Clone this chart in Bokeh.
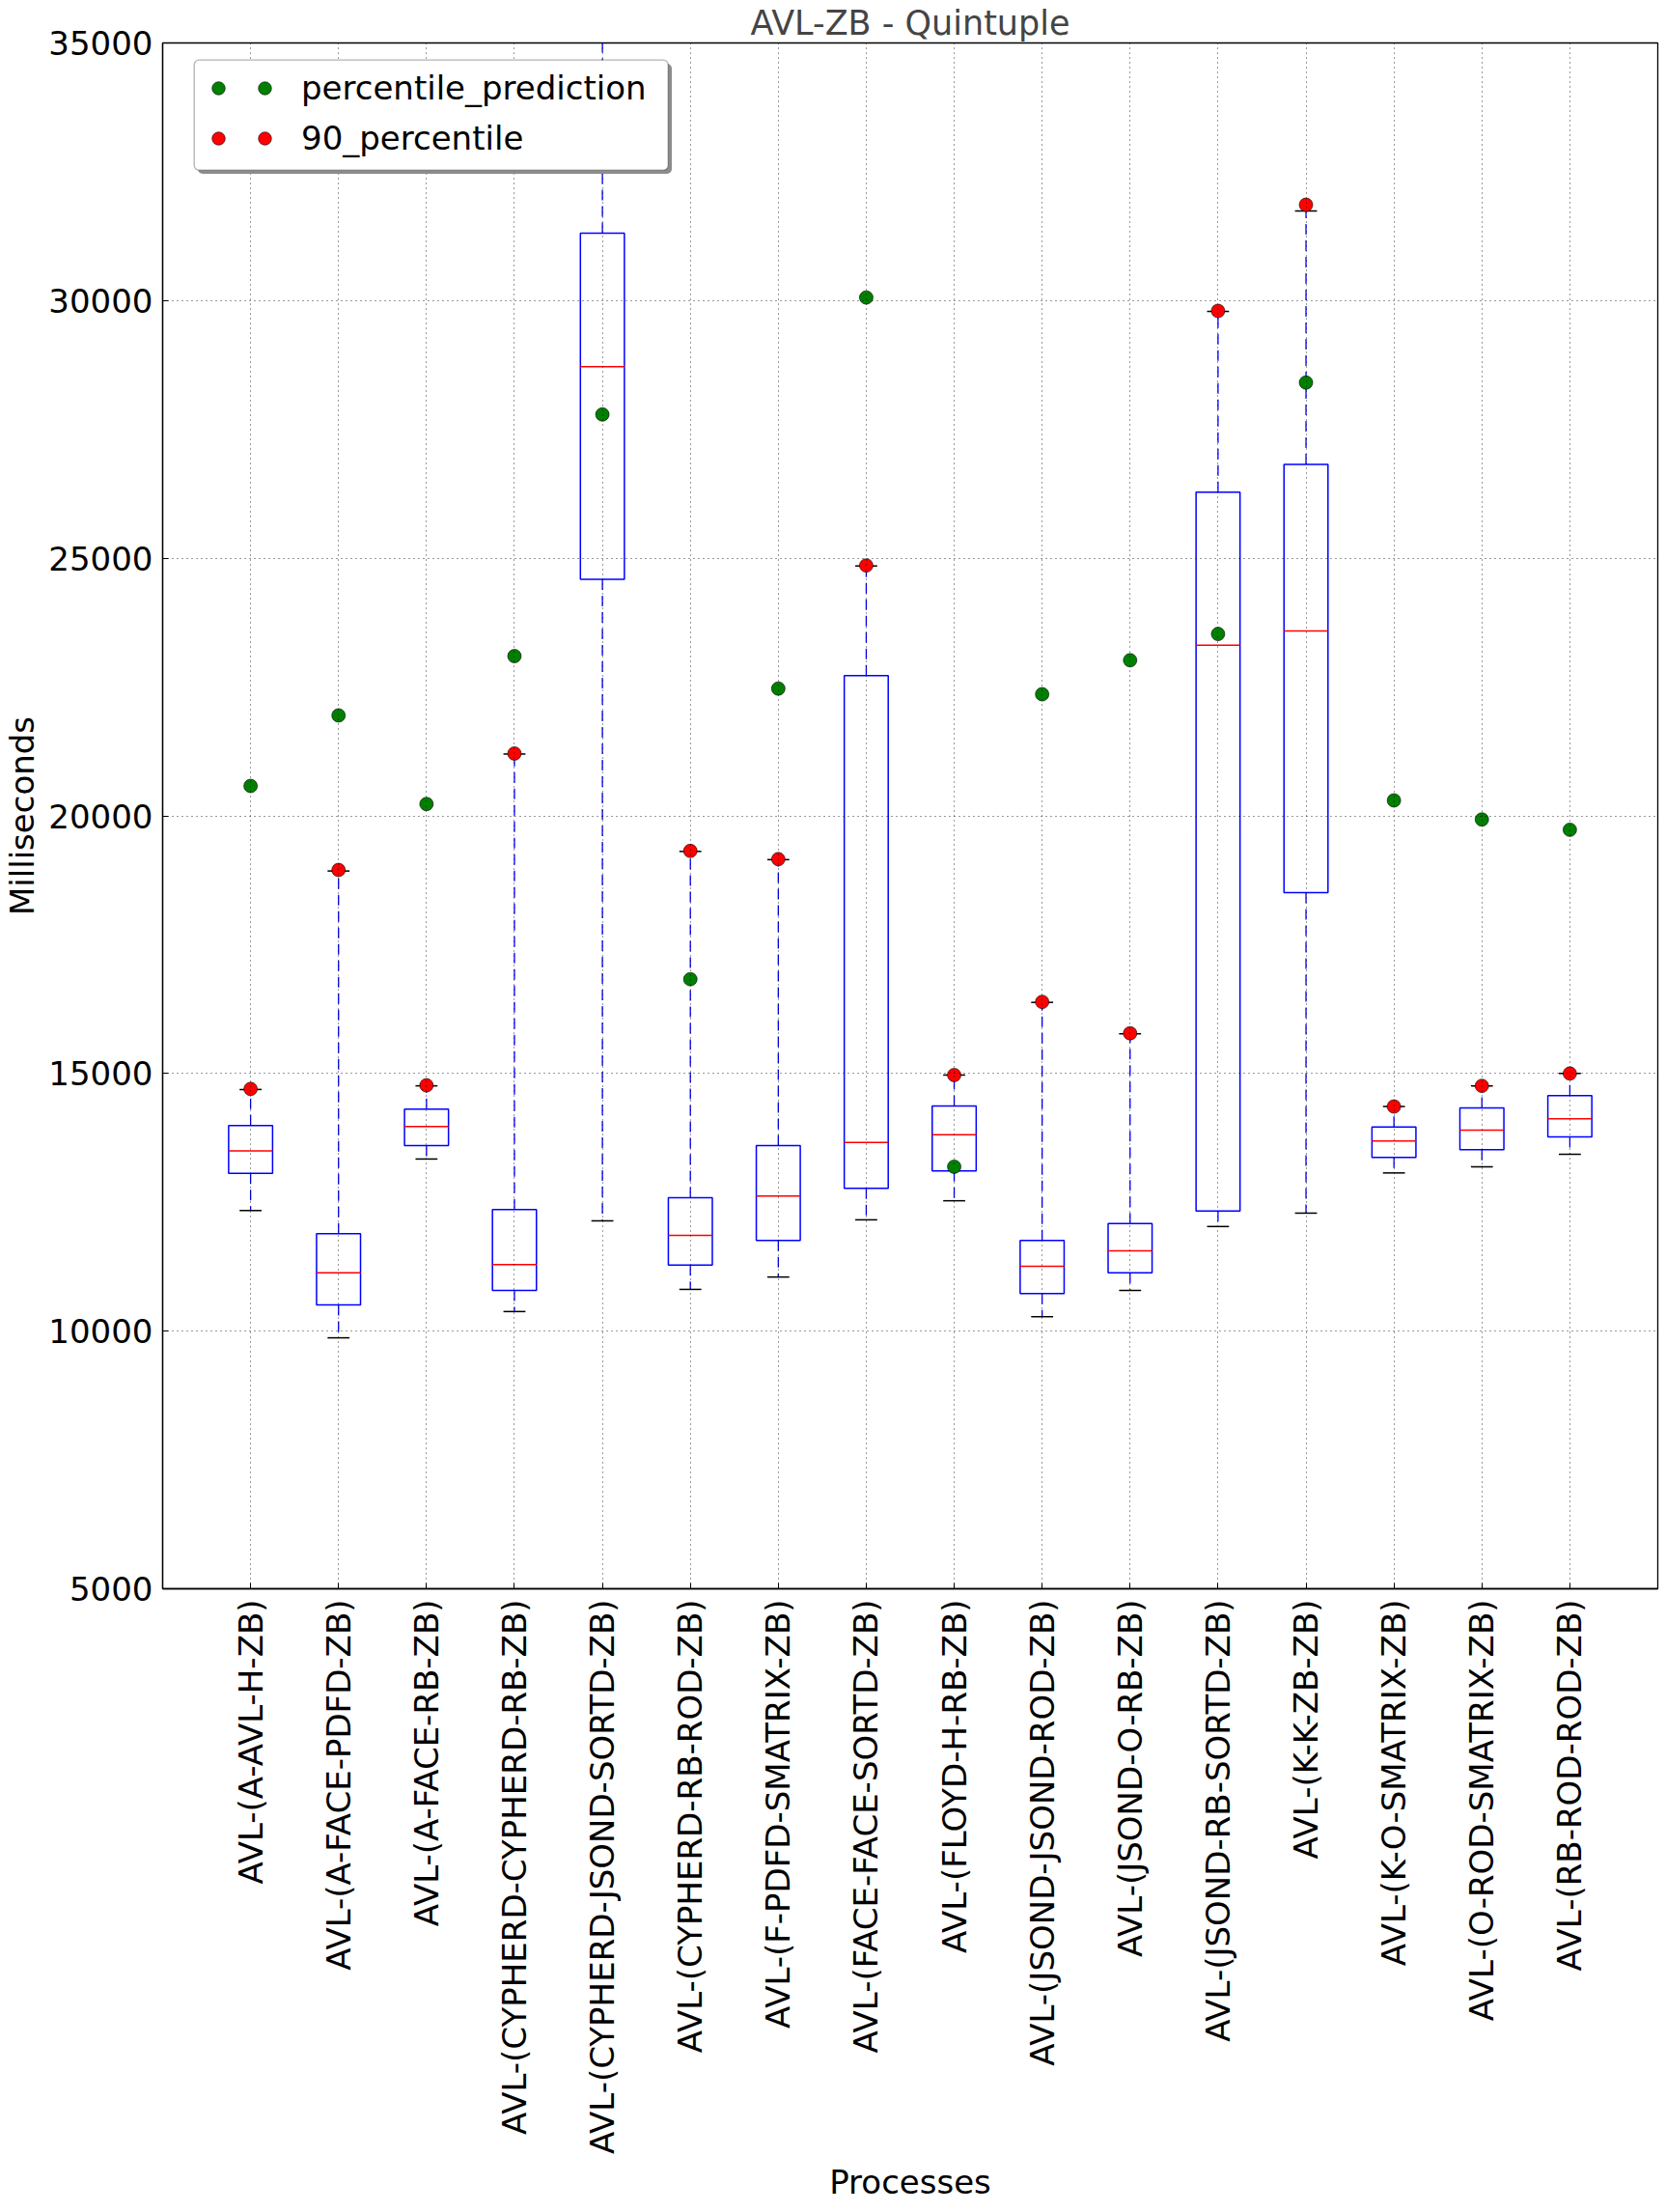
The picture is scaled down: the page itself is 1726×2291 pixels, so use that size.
import math
import numpy as np
from bokeh.plotting import figure
from bokeh.models import (Range1d, FixedTicker, Legend, LegendItem, BoxAnnotation,
                          ColumnDataSource)
from bokeh.embed import file_html
from bokeh.resources import INLINE

# ---------------- data ----------------
categories = [
    "AVL-(A-AVL-H-ZB)",
    "AVL-(A-FACE-PDFD-ZB)",
    "AVL-(A-FACE-RB-ZB)",
    "AVL-(CYPHERD-CYPHERD-RB-ZB)",
    "AVL-(CYPHERD-JSOND-SORTD-ZB)",
    "AVL-(CYPHERD-RB-ROD-ZB)",
    "AVL-(F-PDFD-SMATRIX-ZB)",
    "AVL-(FACE-FACE-SORTD-ZB)",
    "AVL-(FLOYD-H-RB-ZB)",
    "AVL-(JSOND-JSOND-ROD-ZB)",
    "AVL-(JSOND-O-RB-ZB)",
    "AVL-(JSOND-RB-SORTD-ZB)",
    "AVL-(K-K-ZB-ZB)",
    "AVL-(K-O-SMATRIX-ZB)",
    "AVL-(O-ROD-SMATRIX-ZB)",
    "AVL-(RB-ROD-ROD-ZB)",
]
whisker_low = [12340, 9870, 13340, 10380, 12140, 10810, 11050, 12160,
               12530, 10280, 10790, 12030, 12290, 13070, 13190, 13430]
q1 = [13060, 10510, 13600, 10790, 24590, 11280, 11760, 12770,
      13110, 10730, 11130, 12330, 18510, 13370, 13520, 13770]
median = [13500, 11130, 13970, 11290, 28720, 11860, 12620, 13660,
          13810, 11260, 11560, 23310, 23590, 13690, 13900, 14120]
q3 = [13990, 11890, 14310, 12360, 31310, 12590, 13600, 22720,
      14370, 11760, 12090, 26280, 26820, 13960, 14330, 14570]
whisker_high = [14690, 18930, 14760, 21200, 36500, 19310, 19150, 24850,
                14970, 16380, 15770, 29790, 31740, 14360, 14760, 15000]
p90 = [14700, 18950, 14770, 21210, 36600, 19320, 19160, 24860,
       14970, 16390, 15780, 29800, 31860, 14360, 14760, 15000]
prediction = [20580, 21950, 20230, 23100, 27790, 16830, 22470, 30060,
              13190, 22360, 23020, 23530, 28410, 20300, 19930, 19730]
y_ticks = [5000, 10000, 15000, 20000, 25000, 30000, 35000]

pos = np.arange(1, len(categories) + 1)
BOX_W = 0.5
CAP_W = 0.25

FONT = "DejaVu Sans"
FS = "34px"

p = figure(frame_width=1549, frame_height=1601,
           x_range=Range1d(0, 17), y_range=Range1d(5000, 35000),
           output_backend="svg", toolbar_location=None,
           title="AVL-ZB - Quintuple",
           min_border_left=159, min_border_right=2, min_border_top=0,
           min_border_bottom=0)

p.background_fill_color = "white"
p.border_fill_color = "white"
p.outline_line_color = "black"
p.outline_line_width = 1.3

p.title.text_font = FONT
p.title.text_font_size = "35px"
p.title.text_font_style = "normal"
p.title.align = "center"
p.title.standoff = 2

# axes
p.xaxis.ticker = FixedTicker(ticks=list(pos))
p.xaxis.major_label_overrides = {int(i): c for i, c in zip(pos, categories)}
p.xaxis.major_label_orientation = math.pi / 2
p.yaxis.ticker = FixedTicker(ticks=y_ticks)
for ax in (p.xaxis[0], p.yaxis[0]):
    ax.major_label_text_font = FONT
    ax.major_label_text_font_size = FS
    ax.major_label_text_color = "black"
    ax.axis_label_text_font = FONT
    ax.axis_label_text_font_size = FS
    ax.axis_label_text_font_style = "normal"
    ax.axis_label_text_color = "black"
    ax.axis_line_color = "black"
    ax.axis_line_width = 1.3
    ax.major_tick_in = 6
    ax.major_tick_out = 0
    ax.major_tick_line_color = "black"
    ax.minor_tick_line_color = None
p.xaxis.axis_label = "Processes"
p.yaxis.axis_label = "Milliseconds"
p.xaxis.major_label_standoff = 11
p.yaxis.major_label_standoff = 10
p.xaxis.axis_label_standoff = 6
p.yaxis.axis_label_standoff = 4

# grid
for g in (p.xgrid[0], p.ygrid[0]):
    g.grid_line_color = "black"
    g.grid_line_width = 0.8
    g.grid_line_dash = "1 4"
    g.level = "guide"
p.ygrid.ticker = FixedTicker(ticks=y_ticks)
p.xgrid.ticker = FixedTicker(ticks=list(pos))

# ---------------- boxes ----------------
src = ColumnDataSource(dict(
    x=pos, q1=q1, q3=q3, med=median, lo=whisker_low, hi=whisker_high,
    x0=pos - BOX_W / 2, x1=pos + BOX_W / 2,
    c0=pos - CAP_W / 2, c1=pos + CAP_W / 2,
))

# whiskers (blue dashed)
p.segment(x0="x", y0="q3", x1="x", y1="hi", source=src,
          line_color="blue", line_width=1.3, line_dash="11 6")
p.segment(x0="x", y0="q1", x1="x", y1="lo", source=src,
          line_color="blue", line_width=1.3, line_dash="11 6")
# caps (black)
p.segment(x0="c0", y0="hi", x1="c1", y1="hi", source=src,
          line_color="black", line_width=1.5)
p.segment(x0="c0", y0="lo", x1="c1", y1="lo", source=src,
          line_color="black", line_width=1.5)
# box
p.quad(left="x0", right="x1", bottom="q1", top="q3", source=src,
       fill_alpha=0, line_color="blue", line_width=1.5)
# median
p.segment(x0="x0", y0="med", x1="x1", y1="med", source=src,
          line_color="red", line_width=1.5)

# ---------------- points ----------------
r_pred = p.scatter(x=pos, y=prediction, size=14, marker="circle",
                   fill_color="#008000", line_color="black", line_width=0.6)
r_p90 = p.scatter(x=pos, y=p90, size=14, marker="circle",
                  fill_color="#ff0000", line_color="black", line_width=0.6)

# ---------------- legend ----------------
shadow = BoxAnnotation(left=204.5, right=695.5, top=65.5, bottom=179.5,
                       left_units="canvas", right_units="canvas",
                       top_units="canvas", bottom_units="canvas",
                       fill_color="#8c8c8c", fill_alpha=1.0, line_color=None,
                       border_radius=5)
frame_box = BoxAnnotation(left=200.7, right=691.7, top=61.7, bottom=175.7,
                          left_units="canvas", right_units="canvas",
                          top_units="canvas", bottom_units="canvas",
                          fill_color="white", fill_alpha=1.0,
                          line_color="black", line_width=1.3,
                          border_radius=5)
p.add_layout(shadow)
p.add_layout(frame_box)

leg_common = dict(glyph_height=46, label_height=46, glyph_width=34,
                  spacing=6, padding=5, margin=0,
                  label_text_font=FONT, label_text_font_size=FS,
                  label_text_color="black",
                  background_fill_alpha=0, border_line_alpha=0)
legend_a = Legend(items=[LegendItem(label="percentile_prediction", renderers=[r_pred]),
                         LegendItem(label="90_percentile", renderers=[r_p90])],
                  location=(36, 1474), label_standoff=69, **leg_common)
legend_b = Legend(items=[LegendItem(label=" ", renderers=[r_pred]),
                         LegendItem(label=" ", renderers=[r_p90])],
                  location=(84, 1474), label_standoff=2, **leg_common)
p.add_layout(legend_a)
p.add_layout(legend_b)

open("out.html", "w").write(file_html(p, INLINE))
